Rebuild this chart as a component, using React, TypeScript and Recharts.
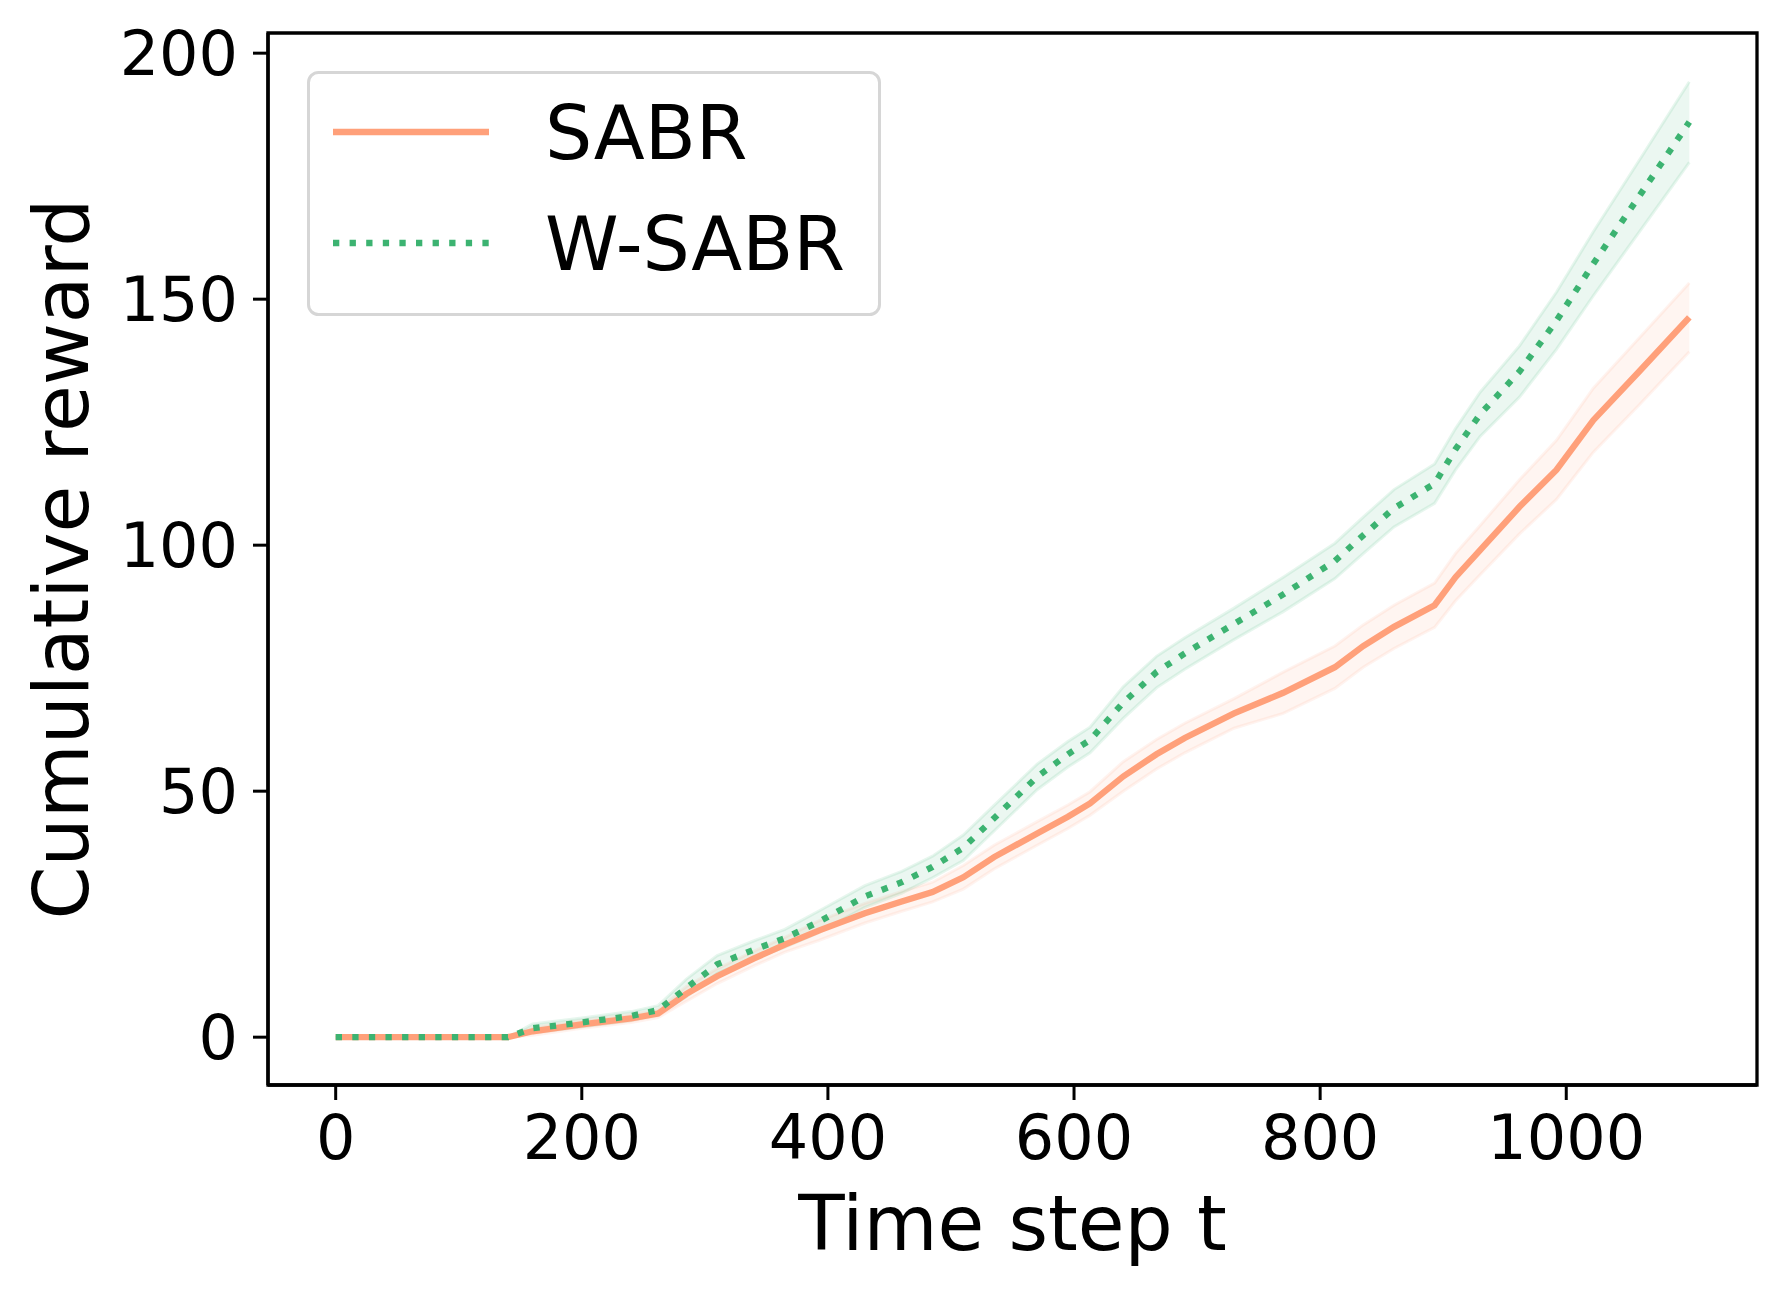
import { ComposedChart, Line, Area, XAxis, YAxis, Legend, ReferenceArea } from "recharts";

const timeSteps = [0, 140, 160, 200, 240, 262, 285, 310, 340, 365, 393, 430, 460, 485, 510, 535, 570, 595, 613, 640, 667, 690, 730, 770, 812, 835, 860, 893, 910, 930, 962, 992, 1022, 1060, 1100];

const sabrMean = [0, 0, 1.2, 2.6, 3.8, 4.8, 8.8, 12.4, 16.0, 18.8, 21.7, 25.2, 27.6, 29.5, 32.5, 36.6, 41.4, 44.8, 47.5, 53.0, 57.5, 60.8, 65.8, 70.0, 75.2, 79.5, 83.4, 87.8, 93.5, 99.0, 107.8, 115.3, 125.4, 135.5, 146.3];
const sabrLow = [0, 0, 0.4, 1.8, 3.0, 4.0, 7.3, 10.9, 14.5, 17.3, 19.7, 23.2, 25.6, 27.5, 30.1, 34.2, 39.0, 42.4, 45.1, 50.0, 54.5, 57.8, 62.8, 65.8, 70.9, 75.2, 79.0, 83.3, 88.7, 94.0, 102.3, 109.3, 118.9, 128.7, 139.3];
const sabrHigh = [0, 0, 2.0, 3.4, 4.6, 5.6, 10.3, 13.9, 17.5, 20.3, 23.7, 27.2, 29.6, 31.5, 34.9, 39.0, 43.8, 47.2, 49.9, 56.0, 60.5, 63.8, 68.8, 74.2, 79.5, 83.8, 87.8, 92.3, 98.3, 104.0, 113.3, 121.3, 131.9, 142.3, 153.3];

const wsabrMean = [0, 0, 1.8, 3.0, 4.3, 5.5, 10.0, 14.8, 17.8, 20.1, 23.5, 28.6, 31.5, 34.6, 38.5, 44.5, 52.9, 57.5, 60.4, 68.0, 74.2, 78.0, 84.0, 90.0, 96.8, 102.0, 107.5, 112.5, 119.5, 126.6, 135.3, 145.6, 157.2, 171.2, 186.0];
const wsabrLow = [0, 0, 0.9, 2.1, 3.4, 4.6, 8.2, 13.0, 16.0, 18.3, 21.3, 26.4, 29.3, 32.4, 35.9, 41.9, 50.3, 54.9, 57.8, 64.8, 71.0, 74.8, 80.8, 86.5, 93.2, 98.3, 103.7, 108.5, 115.3, 122.1, 130.1, 139.8, 150.7, 163.9, 177.8];
const wsabrHigh = [0, 0, 2.7, 3.9, 5.2, 6.4, 11.8, 16.6, 19.6, 21.9, 25.7, 30.8, 33.7, 36.8, 41.1, 47.1, 55.5, 60.1, 63.0, 71.2, 77.4, 81.2, 87.2, 93.5, 100.4, 105.7, 111.3, 116.5, 123.7, 131.1, 140.5, 151.4, 163.7, 178.5, 194.2];

const xTicks = [0, 200, 400, 600, 800, 1000];
const yTicks = [0, 50, 100, 150, 200];
const xDomain = [-55, 1155];
const yDomain = [-9.72, 204.1];

const SABR_COLOR = "#FFA07A";
const WSABR_COLOR = "#3CB371";
const FONT = "DejaVu Sans";

const data = timeSteps.map((t, i) => ({
  t,
  sabr: sabrMean[i],
  sabrBand: [sabrLow[i], sabrHigh[i]],
  wsabr: wsabrMean[i],
  wsabrBand: [wsabrLow[i], wsabrHigh[i]],
}));

const legendItems = [
  { name: "SABR", color: SABR_COLOR, dash: undefined },
  { name: "W-SABR", color: WSABR_COLOR, dash: "6.3 10.3" },
];

const LegendBox = () => (
  <svg width={574} height={245} style={{ display: "block" }}>
    <rect x={1.5} y={1.5} width={571} height={242} rx={10} fill="#fff" stroke="#d6d6d6" strokeWidth={3} />
    {legendItems.map((item, i) => {
      const cy = 61 + i * 111;
      return (
        <g key={item.name}>
          <line x1={26} x2={182} y1={cy} y2={cy} stroke={item.color} strokeWidth={6.3} strokeDasharray={item.dash} />
          <text x={238} y={cy + 27} fontFamily={FONT} fontSize={74.5} fill="#000">
            {item.name}
          </text>
        </g>
      );
    })}
  </svg>
);

const YLabel = () => {
  const cy = 33 + 1052 / 2;
  const x = 88;
  return (
    <text x={x} y={cy} transform={`rotate(-90, ${x}, ${cy})`} textAnchor="middle" fontFamily={FONT} fontSize={76} fill="#000">
      Cumulative reward
    </text>
  );
};

const XLabel = ({ viewBox }: any) => {
  const cx = viewBox.x + viewBox.width / 2;
  return (
    <text x={cx} y={1250} textAnchor="middle" fontFamily={FONT} fontSize={76} fill="#000">
      Time step t
    </text>
  );
};

const tickStyle = { fontFamily: FONT, fontSize: 62, fill: "#000" };

export default function App() {
  return (
    <div style={{ width: 1786, height: 1294, background: "#fff" }}>
      <style>{"body{margin:0;background:#fff}"}</style>
      <ComposedChart width={1786} height={1294} data={data} margin={{ top: 33, right: 29, left: 0, bottom: 0 }}>
        <XAxis
          type="number"
          dataKey="t"
          domain={xDomain}
          ticks={xTicks}
          allowDataOverflow
          height={209}
          tick={tickStyle}
          tickSize={15}
          tickMargin={15}
          axisLine={{ stroke: "#000", strokeWidth: 3.3 }}
          tickLine={{ stroke: "#000", strokeWidth: 3 }}
          label={<XLabel />}
        />
        <YAxis
          type="number"
          domain={yDomain}
          ticks={yTicks}
          allowDataOverflow
          width={268}
          tick={tickStyle}
          tickSize={15}
          tickMargin={15}
          axisLine={{ stroke: "#000", strokeWidth: 3.3 }}
          tickLine={{ stroke: "#000", strokeWidth: 3 }}
          label={<YLabel />}
        />
        <Area
          dataKey="sabrBand"
          stroke={SABR_COLOR}
          strokeOpacity={0.12}
          strokeWidth={3}
          fill={SABR_COLOR}
          fillOpacity={0.1}
          legendType="none"
          isAnimationActive={false}
        />
        <Line
          dataKey="sabr"
          name="SABR"
          stroke={SABR_COLOR}
          strokeWidth={6.3}
          dot={false}
          activeDot={false}
          type="linear"
          isAnimationActive={false}
        />
        <Area
          dataKey="wsabrBand"
          stroke={WSABR_COLOR}
          strokeOpacity={0.12}
          strokeWidth={3}
          fill={WSABR_COLOR}
          fillOpacity={0.1}
          legendType="none"
          isAnimationActive={false}
        />
        <Line
          dataKey="wsabr"
          name="W-SABR"
          stroke={WSABR_COLOR}
          strokeWidth={6.3}
          strokeDasharray="6.3 10.3"
          dot={false}
          activeDot={false}
          type="linear"
          isAnimationActive={false}
        />
        <ReferenceArea
          x1={xDomain[0]}
          x2={xDomain[1]}
          y1={yDomain[0]}
          y2={yDomain[1]}
          fill="none"
          stroke="#000"
          strokeWidth={3.3}
          ifOverflow="visible"
        />
        <Legend
          layout="vertical"
          align="center"
          verticalAlign="middle"
          wrapperStyle={{ left: 307, top: 71, width: 574, height: 245 }}
          content={() => <LegendBox />}
        />
      </ComposedChart>
    </div>
  );
}
